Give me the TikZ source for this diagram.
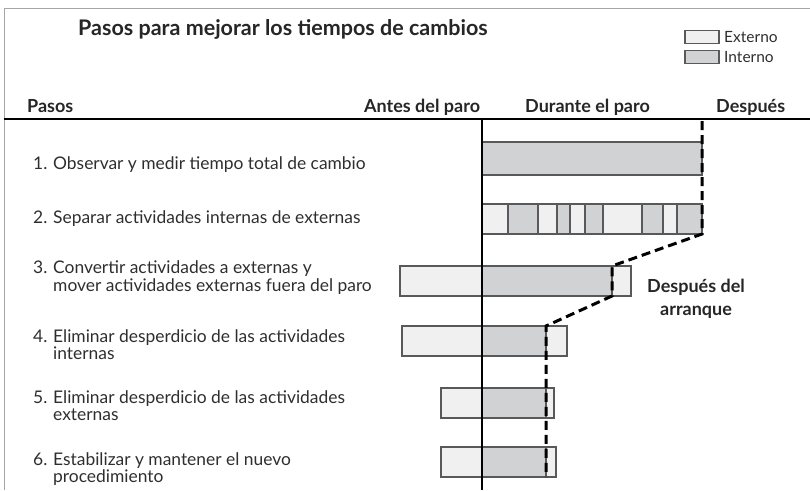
\documentclass[tikz,border=0pt]{standalone}
\usepackage{fontspec}
\setmainfont{Lato}
\usetikzlibrary{positioning}

\definecolor{extfill}{HTML}{F0F0F0}
\definecolor{intfill}{HTML}{D1D2D4}
\definecolor{edge}{HTML}{58595B}
\definecolor{txt}{HTML}{2E2E2E}

\newcommand{\stepnum}[1]{\makebox[20pt][l]{#1}}

\begin{document}
\begin{tikzpicture}[
    x=1pt, y=-1pt,
    ext/.style={
        draw=edge, line width=1.1pt, fill=extfill,
        inner sep=0pt, outer sep=0pt, anchor=north west
    },
    int/.style={ext, fill=intfill},
    steptxt/.style={
        anchor=base west, inner sep=0pt,
        font=\fontsize{17.4}{18}\selectfont, text=txt
    },
    head/.style={anchor=base west, inner sep=0pt, font=\fontsize{18}{20}\selectfont\bfseries, text=black!85},
    legtxt/.style={anchor=base west, inner sep=0pt, font=\fontsize{15.5}{17}\selectfont, text=txt},
    cut/.style={line width=3pt, dash pattern=on 9pt off 5pt},
    axis/.style={line width=2pt}
]
\useasboundingbox (0,0) rectangle (810,490);

% frame, header rule, time axis
\draw[gray!70, line width=0.8pt] (4,490) -- (4,8) -- (810,8);
\coordinate (rl) at (4,119);
\coordinate (rr) at (810,119);
\draw[axis] (rl) -- (rr);

\node[head, font=\fontsize{21.5}{24}\selectfont\bfseries] (title) at (78,35) {Pasos para mejorar los tiempos de cambios};

% legend
\node[ext, minimum width=34pt, minimum height=13pt] (lgext) at (685,30.5) {};
\node[int, minimum width=34pt, minimum height=13pt] (lgint) at (685,50.5) {};
\node[legtxt] (lgexttxt) at (724,42) {Externo};
\node[legtxt] (lginttxt) at (724,62) {Interno};

% column heads
\node[head] (hpasos)   at (27,112)  {Pasos};
\node[head] (hantes)   at (364,112) {Antes del paro};
\node[head] (hdurante) at (525,112) {Durante el paro};
\node[head] (hdespues) at (716,112) {Después};

% steps
\node[steptxt] (s1)  at (33,169) {\stepnum{1.}Observar y medir tiempo total de cambio};
\node[steptxt] (s2)  at (33,223) {\stepnum{2.}Separar actividades internas de externas};
\node[steptxt] (s3)  at (33,273) {\stepnum{3.}Convertir actividades a externas y};
\node[steptxt] (s3b) at (33,291) {\stepnum{}mover actividades externas fuera del paro};
\node[steptxt] (s4)  at (33,342) {\stepnum{4.}Eliminar desperdicio de las actividades};
\node[steptxt] (s4b) at (33,359) {\stepnum{}internas};
\node[steptxt] (s5)  at (33,403) {\stepnum{5.}Eliminar desperdicio de las actividades};
\node[steptxt] (s5b) at (33,420) {\stepnum{}externas};
\node[steptxt] (s6)  at (33,465) {\stepnum{6.}Estabilizar y mantener el nuevo};
\node[steptxt] (s6b) at (33,482) {\stepnum{}procedimiento};

% bars
\node[int, minimum width=220pt, minimum height=33pt] (r1) at (482,142) {};

\foreach \a/\b/\s [count=\i] in {482/508/ext, 508/538/int, 538/557/ext, 557/570/int, 570/585/ext,
                                  585/603/int, 603/642/ext, 642/663/int, 663/677/ext, 677/702/int}
    \node[\s, minimum width=\b pt-\a pt, minimum height=30pt] (r2s\i) at (\a,204) {};

\node[ext, minimum width=82pt,  minimum height=30pt] (r3a) at (400,266) {};
\node[int, minimum width=130pt, minimum height=30pt] (r3b) at (482,266) {};
\node[ext, minimum width=19pt,  minimum height=30pt] (r3c) at (612,266) {};

\node[ext, minimum width=80pt, minimum height=30pt] (r4a) at (402,326) {};
\node[int, minimum width=64pt, minimum height=30pt] (r4b) at (482,326) {};
\node[ext, minimum width=21pt, minimum height=30pt] (r4c) at (546,326) {};

\node[ext, minimum width=41pt, minimum height=30pt] (r5a) at (441,388) {};
\node[int, minimum width=64pt, minimum height=30pt] (r5b) at (482,388) {};
\node[ext, minimum width=8pt,  minimum height=30pt] (r5c) at (546,388) {};

\node[ext, minimum width=41pt, minimum height=30pt] (r6a) at (441,447) {};
\node[int, minimum width=64pt, minimum height=30pt] (r6b) at (482,447) {};
\node[ext, minimum width=10pt, minimum height=30pt] (r6c) at (546,447) {};

\coordinate (axtop) at (482,119);
\coordinate (axbot) at (482,490);
\draw[axis] (axtop) -- (axbot);

% cut line
\coordinate (cuttop) at (702,121);
\draw[cut] (cuttop) -- (r2s10.south east) -- (r3b.north east) -- (r3b.south east)
    -- (r4b.north east) -- (r6b.south east);

\node[head, anchor=base] (arr1) at (696,292) {Después del};
\node[head, anchor=base] (arr2) at (696,315) {arranque};

\end{tikzpicture}
\end{document}
